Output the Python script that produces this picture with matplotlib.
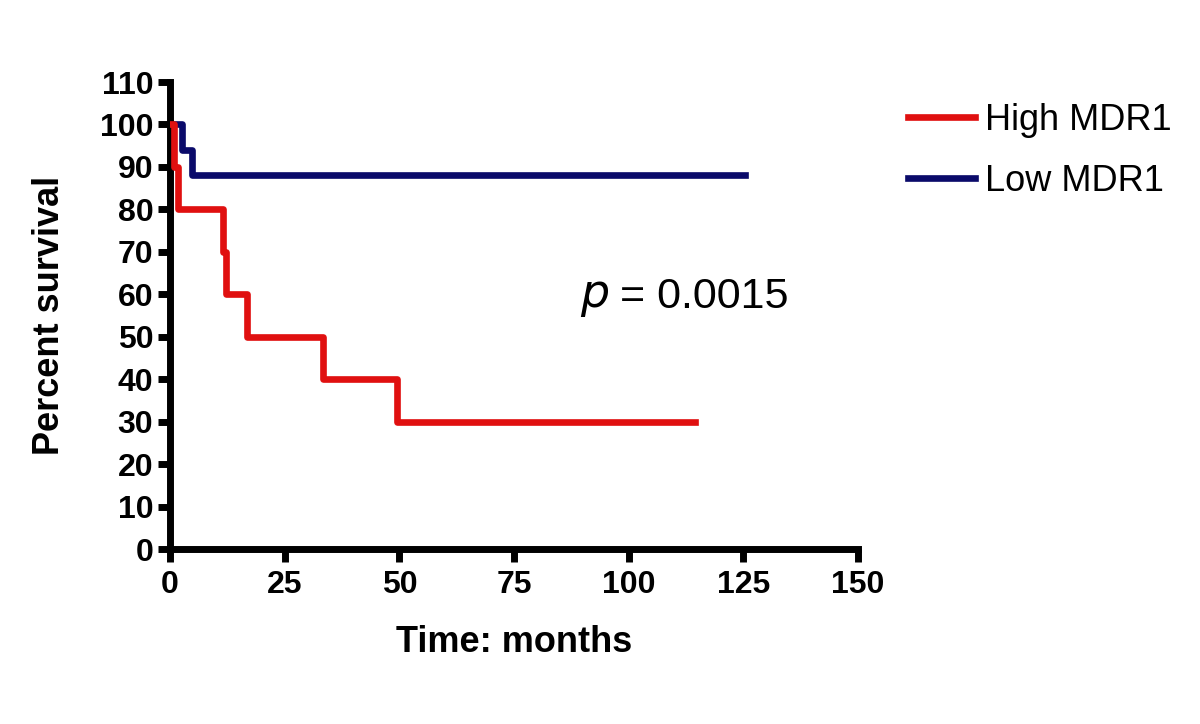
import matplotlib.pyplot as plt
import numpy as np

plt.rcParams['font.family'] = 'Liberation Sans'

# Data
high_t = [0, 0.8, 1.7, 11.5, 12.3, 16.7, 33.4, 49.4, 114.5]
high_s = [100, 90, 80, 70, 60, 50, 40, 30, 30]
low_t = [0, 2.5, 4.7, 125.3]
low_s = [100, 94.1, 88.2, 88.2]

x_ticks = [0, 25, 50, 75, 100, 125, 150]
y_ticks = list(range(0, 111, 10))

RED = '#e01010'
BLUE = '#0a0a6a'

fig = plt.figure(figsize=(12, 7.24), dpi=100)
ax = fig.add_axes([0.1417, 0.2417, 0.5733, 0.645])

ax.step(high_t, high_s, where='post', color=RED, lw=4.8, label='High MDR1', zorder=3)
ax.step(low_t, low_s, where='post', color=BLUE, lw=4.8, label='Low MDR1', zorder=2)

ax.set_xlim(0, 150)
ax.set_ylim(0, 110)
ax.set_xticks(x_ticks)
ax.set_yticks(y_ticks)

for side in ['top', 'right']:
    ax.spines[side].set_visible(False)
for side in ['left', 'bottom']:
    ax.spines[side].set_linewidth(5)
ax.tick_params(width=5, length=9, direction='out', labelsize=23, pad=3)
ax.tick_params(axis='x', pad=6)
for lab in ax.get_xticklabels() + ax.get_yticklabels():
    lab.set_fontweight('bold')

ax.set_xlabel('Time: months', fontsize=26, fontweight='bold', labelpad=18)
ax.set_ylabel('Percent survival', fontsize=26, fontweight='bold', labelpad=24)

ax.text(89.4, 59.4, r'$p$', fontsize=33, style='italic', ha='left', va='center')
ax.text(98.2, 59.4, '= 0.0015', fontsize=31, ha='left', va='center')

fig.legend(loc='upper left', bbox_to_anchor=(0.7567, 0.858), frameon=False,
           fontsize=26, handlelength=1.86, handletextpad=0.28, labelspacing=0.72,
           borderpad=0, borderaxespad=0)

fig.savefig('out.png', dpi=100)
plt.close(fig)
